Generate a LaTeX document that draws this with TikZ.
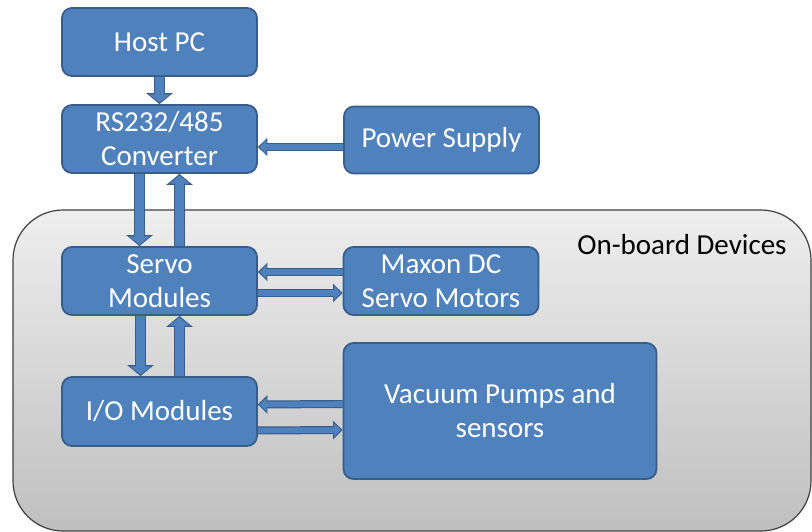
\documentclass[tikz,border=0pt]{standalone}
\usepackage{fontspec}
\setmainfont{Carlito}
\usetikzlibrary{arrows.meta}
\definecolor{boxfill}{HTML}{4F81BD}
\definecolor{boxline}{HTML}{385D8A}
\definecolor{bgtop}{HTML}{EEEEEE}
\definecolor{bgbot}{HTML}{BFBFBF}
\tikzset{
  blk/.style={draw=boxline, fill=boxfill, line width=1.8pt, rounded corners=10pt,
    text=white, align=center, inner sep=0pt,
    font=\fontsize{29}{34}\selectfont},
  bigarrow/.style={preaction={draw=boxline, line width=11pt, shorten >=0pt,
      -{Triangle[length=11pt,width=26pt]}},
    draw=boxfill, line width=8.6pt, shorten >=1.6pt,
    -{Triangle[length=8.2pt,width=21pt]}},
  smallarrow/.style={preaction={draw=boxline, line width=8pt, shorten >=0pt,
      -{Triangle[length=9.5pt,width=18pt]}},
    draw=boxfill, line width=5.6pt, shorten >=1.7pt,
    -{Triangle[length=6.8pt,width=13.5pt]}}
}
\begin{document}
\begin{tikzpicture}[x=1pt,y=-1pt]
\useasboundingbox (0,0) rectangle (812,532);
\path[draw=black!75, line width=1.2pt, rounded corners=50pt, top color=bgtop, bottom color=bgbot]
  (13,210) rectangle (811,531);
\node[font=\fontsize{29}{34}\selectfont, text=black] (onb) at (682,245) {On-board Devices};

\node[blk, minimum width=195pt, minimum height=68pt] (host) at (159.5,42) {Host PC};
\node[blk, minimum width=195pt, minimum height=68pt] (rs) at (159.5,139) {RS232/485\\Converter};
\node[blk, minimum width=195pt, minimum height=67pt] (power) at (441.5,140) {Power Supply};
\node[blk, minimum width=195pt, minimum height=68pt] (servo) at (159.5,281) {Servo\\Modules};
\node[blk, minimum width=195pt, minimum height=68pt] (maxon) at (441,281) {Maxon DC\\Servo Motors};
\node[blk, minimum width=195pt, minimum height=69pt] (io) at (159.5,411.5) {I/O Modules};
\node[blk, minimum width=313pt, minimum height=136pt] (vac) at (500,411) {Vacuum Pumps and\\sensors};

\draw[bigarrow] (host.south) -- (rs.north);
\draw[bigarrow] ([xshift=-20pt]rs.south) -- ([xshift=-20pt]servo.north);
\draw[bigarrow] ([xshift=20pt]servo.north) -- ([xshift=20pt]rs.south);
\draw[smallarrow] ([yshift=-7pt]power.west) -- ([yshift=-8pt]rs.east);
\draw[smallarrow] ([yshift=9pt]maxon.west) -- ([yshift=9pt]servo.east);
\draw[smallarrow] ([yshift=-12pt]servo.east) -- ([yshift=-12pt]maxon.west);
\draw[bigarrow] ([xshift=-19pt]servo.south) -- ([xshift=-19pt]io.north);
\draw[bigarrow] ([xshift=20pt]io.north) -- ([xshift=20pt]servo.south);
\draw[smallarrow] ([yshift=7pt]vac.west) -- ([yshift=7pt]io.east);
\draw[smallarrow] ([yshift=-19pt]io.east) -- ([yshift=-19pt]vac.west);
\end{tikzpicture}
\end{document}
